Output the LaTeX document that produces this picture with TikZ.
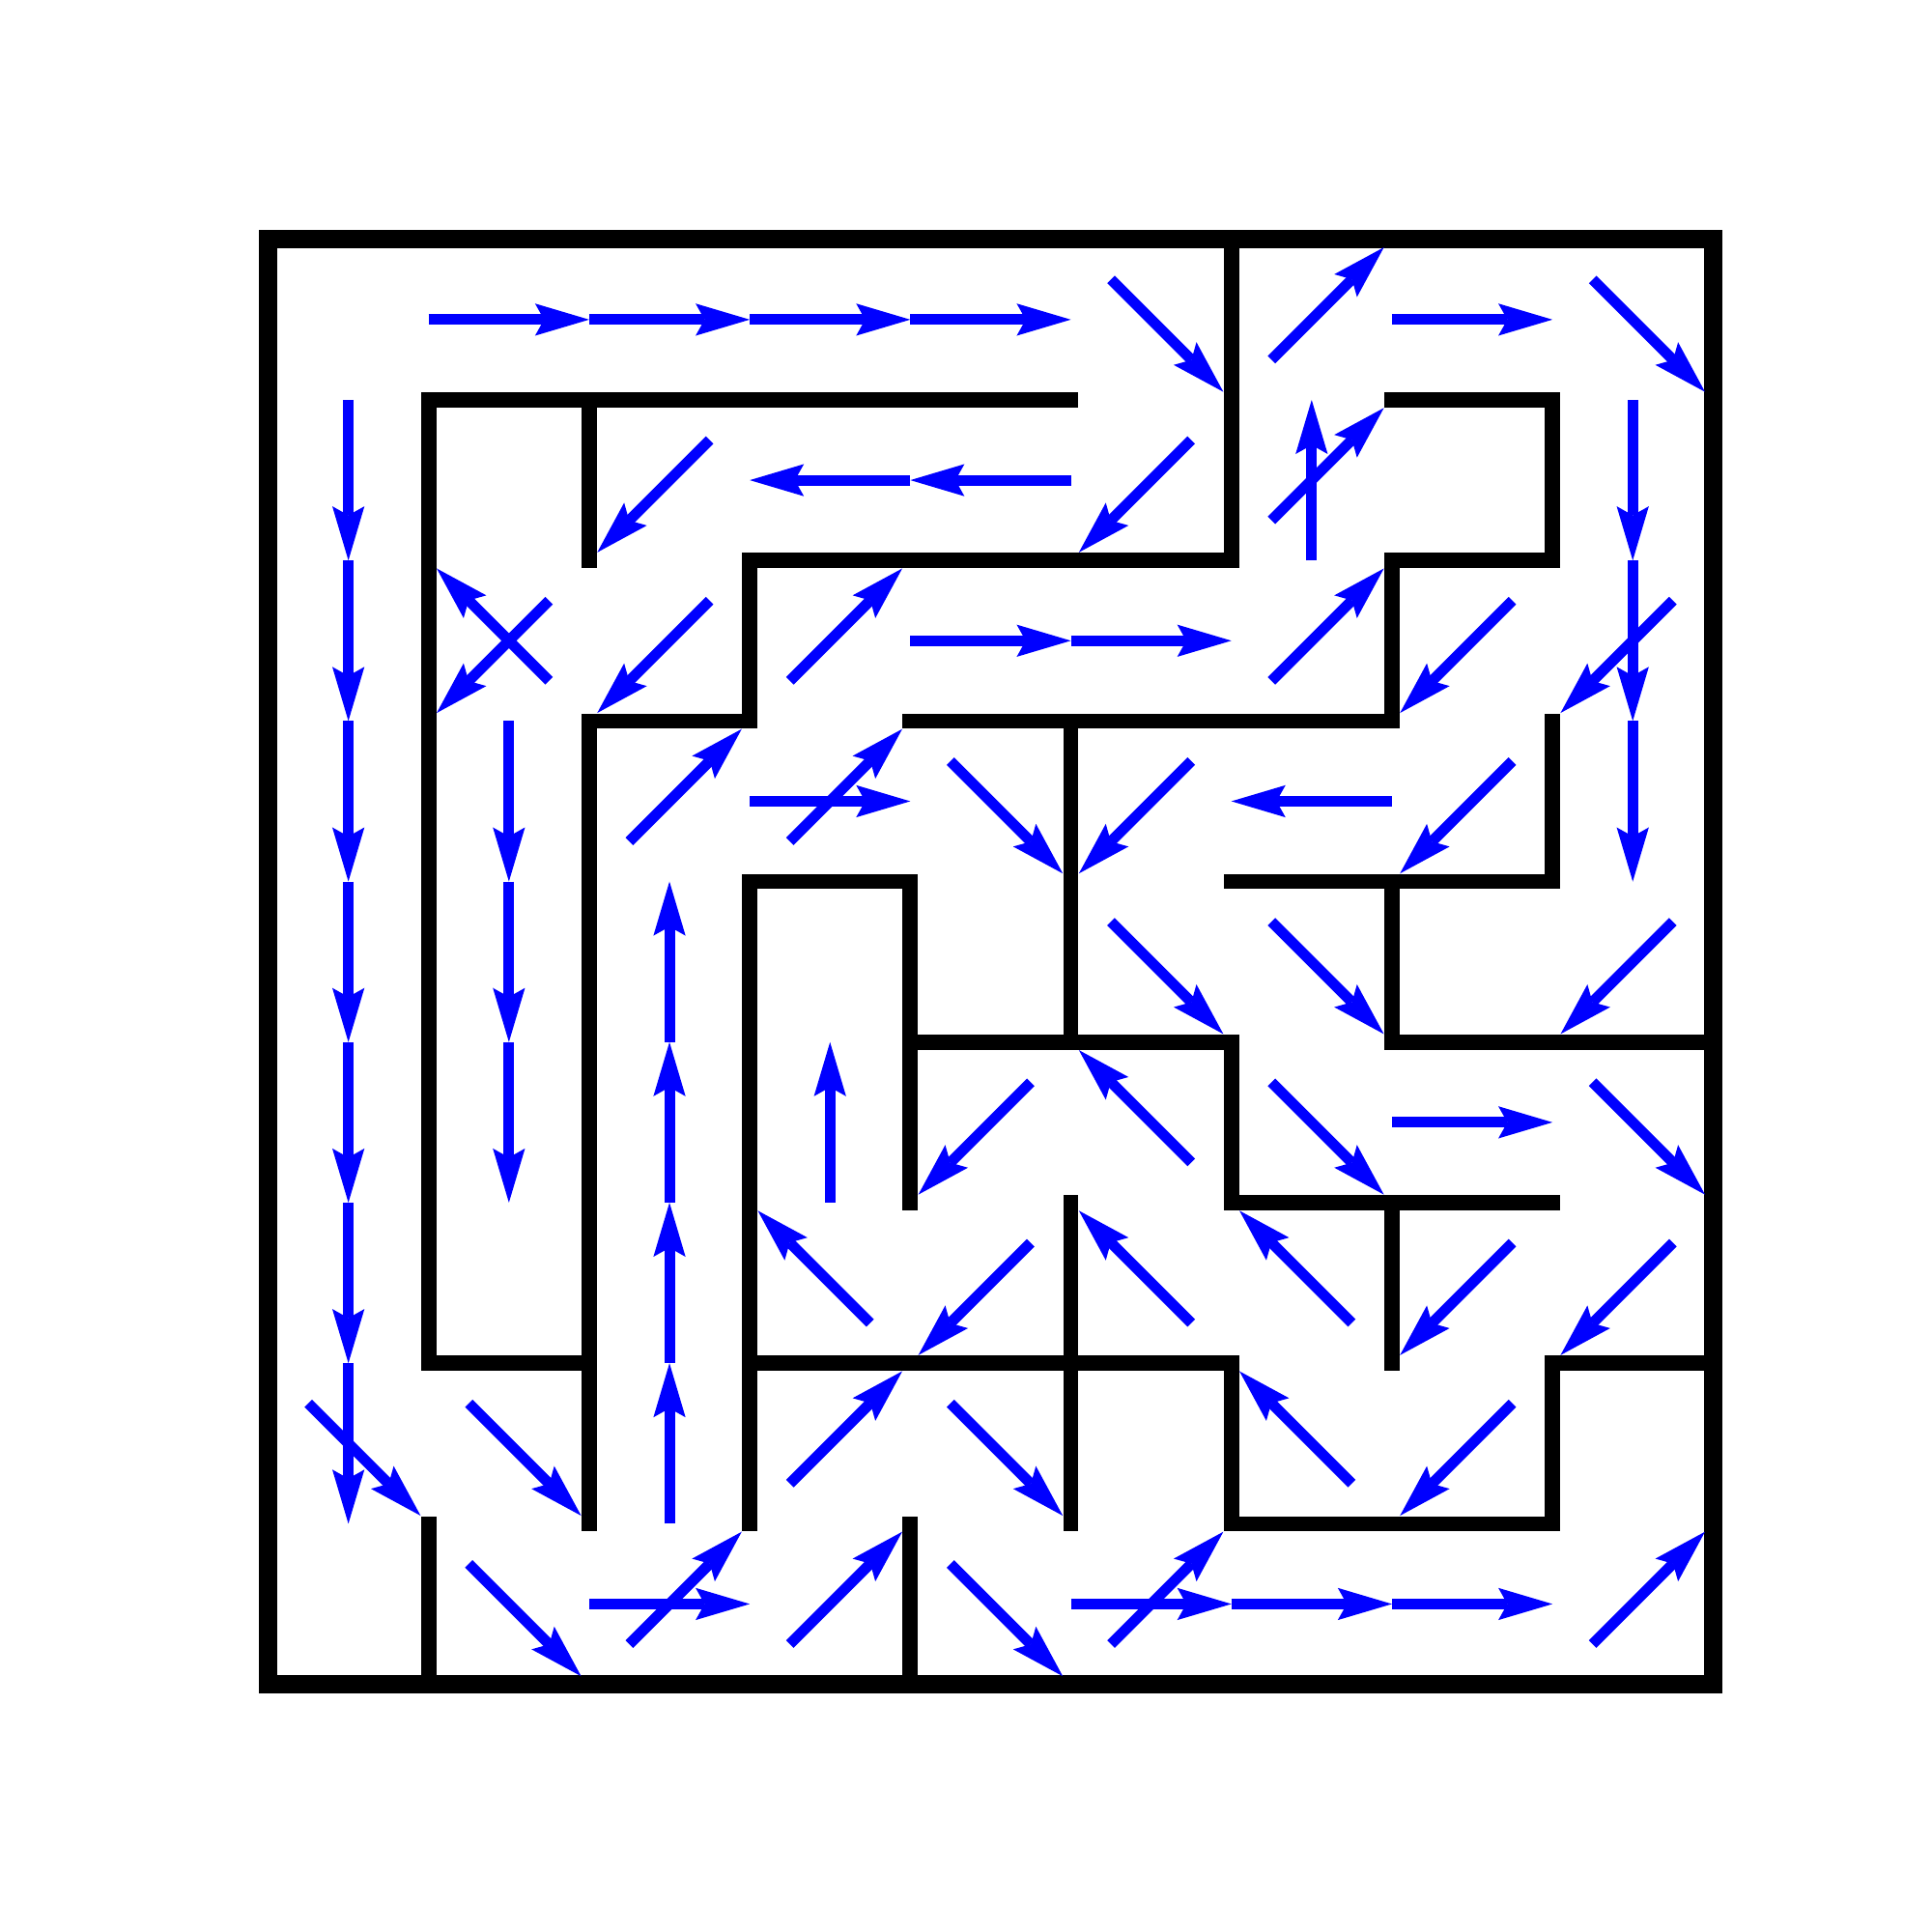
\documentclass[tikz,border=0pt]{standalone}
\usepackage{tikz}
\usetikzlibrary{arrows.meta}
\tikzset{
  wall/.style={line width=2.69pt,line cap=rect,line join=miter},
  outerwall/.style={line width=3.3pt,line cap=rect,line join=miter},
  move/.style={blue,line width=1.88pt,-{Stealth[length=9.6pt,width=5.7pt,inset=1.6pt,line width=0pt]}}
}
\begin{document}
\begin{tikzpicture}
  \useasboundingbox (-1.670,-1.543) rectangle (10.364,10.491);
  % walls
  \draw[outerwall] (0,0) rectangle (9,9);
  \draw[wall] (6,9) -- (6,7) -- (3,7) -- (3,6) -- (2,6) -- (2,1);
  \draw[wall] (5,8) -- (1,8) -- (1,2) -- (2,2);
  \draw[wall] (2,8) -- (2,7);
  \draw[wall] (7,8) -- (8,8) -- (8,7) -- (7,7) -- (7,6) -- (4,6);
  \draw[wall] (5,6) -- (5,4);
  \draw[wall] (8,6) -- (8,5) -- (6,5);
  \draw[wall] (7,5) -- (7,4) -- (9,4);
  \draw[wall] (3,1) -- (3,5) -- (4,5) -- (4,3);
  \draw[wall] (4,4) -- (6,4) -- (6,3) -- (8,3);
  \draw[wall] (7,3) -- (7,2);
  \draw[wall] (5,3) -- (5,1);
  \draw[wall] (3,2) -- (6,2) -- (6,1) -- (8,1) -- (8,2) -- (9,2);
  \draw[wall] (1,1) -- (1,0);
  \draw[wall] (4,1) -- (4,0);
  % moves (column/row, rows counted from the top)
  \foreach \c/\r in {1/0,2/0,3/0,4/0,7/0,4/2,5/2,3/3,7/5,2/8,5/8,6/8,7/8}
    \draw[move,shift={(\c+0.5,8.5-\r)}] (-0.5,0) -- (0.5,0);
  \foreach \c/\r in {3/1,4/1,6/3}
    \draw[move,shift={(\c+0.5,8.5-\r)}] (0.5,0) -- (-0.5,0);
  \foreach \c/\r in {0/1,0/2,0/3,0/4,0/5,0/6,0/7,1/3,1/4,1/5,8/1,8/2,8/3}
    \draw[move,shift={(\c+0.5,8.5-\r)}] (0,0.5) -- (0,-0.5);
  \foreach \c/\r in {6/1,2/4,2/5,2/6,2/7,3/5}
    \draw[move,shift={(\c+0.5,8.5-\r)}] (0,-0.5) -- (0,0.5);
  \foreach \c/\r in {5/0,8/0,4/3,5/4,6/4,6/5,8/5,0/7,1/7,4/7,1/8,4/8}
    \draw[move,shift={(\c+0.5,8.5-\r)}] (-0.25,0.25) -- (0.45,-0.45);
  \foreach \c/\r in {6/0,6/1,3/2,6/2,2/3,3/3,3/7,2/8,3/8,5/8,8/8}
    \draw[move,shift={(\c+0.5,8.5-\r)}] (-0.25,-0.25) -- (0.45,0.45);
  \foreach \c/\r in {2/1,5/1,1/2,2/2,7/2,8/2,5/3,7/3,8/4,4/5,4/6,7/6,8/6,7/7}
    \draw[move,shift={(\c+0.5,8.5-\r)}] (0.25,0.25) -- (-0.45,-0.45);
  \foreach \c/\r in {1/2,5/5,3/6,5/6,6/6,6/7}
    \draw[move,shift={(\c+0.5,8.5-\r)}] (0.25,-0.25) -- (-0.45,0.45);
\end{tikzpicture}
\end{document}
